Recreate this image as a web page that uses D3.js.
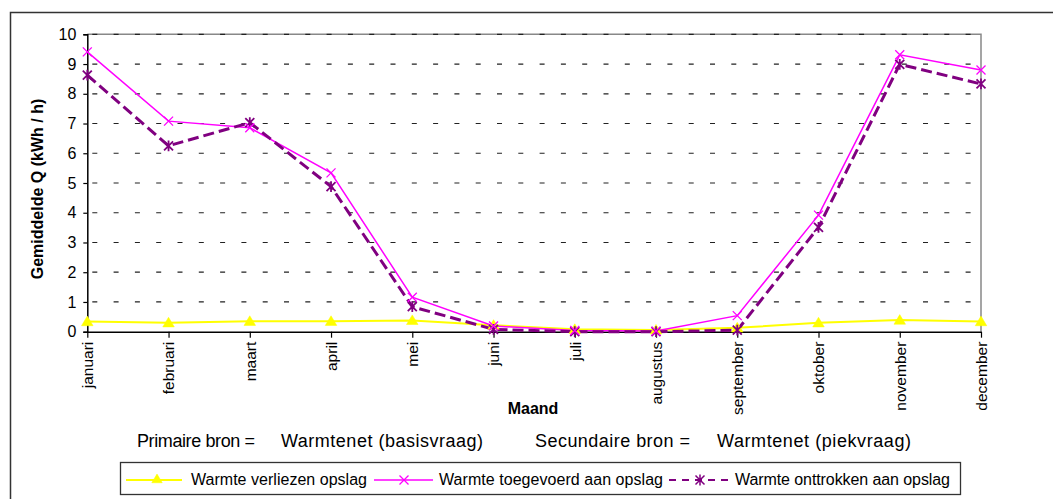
<!DOCTYPE html>
<html>
<head>
<meta charset="utf-8">
<script src="https://cdn.jsdelivr.net/npm/d3@7"></script>
<style>
  html, body { margin: 0; padding: 0; background: #fff; }
  svg { display: block; font-family: "Liberation Sans", Arial, sans-serif; }
</style>
</head>
<body>
<svg id="chart" width="1053" height="499"></svg>
<script>
const months = ["januari","februari","maart","april","mei","juni","juli","augustus","september","oktober","november","december"];
const verliezen = [0.34, 0.30, 0.35, 0.35, 0.38, 0.22, 0.08, 0.06, 0.13, 0.30, 0.39, 0.34];
const toegevoerd = [9.41, 7.08, 6.86, 5.34, 1.16, 0.19, 0.04, 0.02, 0.54, 3.92, 9.31, 8.80];
const onttrokken = [8.63, 6.25, 7.03, 4.88, 0.84, 0.08, 0.0, 0.0, 0.05, 3.51, 8.99, 8.33];
const yTicks = [0,1,2,3,4,5,6,7,8,9,10];
const seriesNames = ["Warmte verliezen opslag","Warmte toegevoerd aan opslag","Warmte onttrokken aan opslag"];
const yLabel = "Gemiddelde Q (kWh / h)";
const xLabel = "Maand";
const notes = ["Primaire bron =", "Warmtenet (basisvraag)", "Secundaire bron =", "Warmtenet (piekvraag)"];

const svg = d3.select("#chart");
const M = {left: 87.3, right: 981, top: 34.3, bottom: 331.7};

const x = d3.scalePoint().domain(months).range([M.left, M.right]);
const y = d3.scaleLinear().domain([0, 10]).range([M.bottom, M.top]);

// outer frame
svg.append("rect").attr("x", 10.5).attr("y", 12.5).attr("width", 1100).attr("height", 600)
  .attr("fill", "none").attr("stroke", "#333").attr("stroke-width", 1.5);

// plot area border (gray top/right)
svg.append("path")
  .attr("d", `M${M.left},${M.top}H${M.right}V${M.bottom}`)
  .attr("fill", "none").attr("stroke", "#888").attr("stroke-width", 1.5);

// gridlines
svg.append("g").selectAll("line").data(yTicks.filter(d => d > 0)).join("line")
  .attr("x1", M.left + 5).attr("x2", M.right - 2)
  .attr("y1", d => y(d)).attr("y2", d => y(d))
  .attr("stroke", "#222").attr("stroke-width", 1.2)
  .attr("stroke-dasharray", "5,16.3");

// y axis
const yAxis = svg.append("g").attr("transform", `translate(${M.left},0)`)
  .call(d3.axisLeft(y).tickValues(yTicks).tickSize(4).tickPadding(7).tickFormat(d3.format("d")));
yAxis.select(".domain").attr("stroke", "#000").attr("stroke-width", 1.5);
yAxis.selectAll(".tick line").attr("stroke", "#000").attr("stroke-width", 1.2);
yAxis.selectAll("text").attr("font-size", 16).attr("fill", "#000")
  .attr("font-family", "Liberation Sans, Arial, sans-serif");

// x axis
const xAxis = svg.append("g").attr("transform", `translate(0,${M.bottom})`)
  .call(d3.axisBottom(x).tickSize(6).tickSizeOuter(0));
xAxis.select(".domain").attr("stroke", "#000").attr("stroke-width", 1.5);
xAxis.selectAll(".tick line").attr("stroke", "#000").attr("stroke-width", 1.2);
xAxis.selectAll("text")
  .attr("font-size", 15.5).attr("fill", "#000")
  .attr("font-family", "Liberation Sans, Arial, sans-serif")
  .attr("transform", "rotate(-90)")
  .attr("text-anchor", "end")
  .attr("x", -10).attr("y", 0).attr("dy", "0.35em");

// axis titles
svg.append("text").attr("transform", `translate(43,${(M.top + M.bottom) / 2 + 6}) rotate(-90)`)
  .attr("text-anchor", "middle").attr("font-weight", "bold").attr("font-size", 16).text(yLabel);
svg.append("text").attr("x", 533).attr("y", 414).attr("text-anchor", "middle")
  .attr("font-weight", "bold").attr("font-size", 16).text(xLabel);

// series
const line = d3.line().x((d, i) => x(months[i])).y(d => y(d));

svg.append("path").datum(verliezen).attr("d", line)
  .attr("fill", "none").attr("stroke", "#ffff00").attr("stroke-width", 2);
svg.append("path").datum(toegevoerd).attr("d", line)
  .attr("fill", "none").attr("stroke", "#ff00ff").attr("stroke-width", 1.5);
svg.append("path").datum(onttrokken).attr("d", line)
  .attr("fill", "none").attr("stroke", "#800080").attr("stroke-width", 3)
  .attr("stroke-dasharray", "11,5");

function tri(g, cx, cy, s) {
  g.append("path").attr("d", `M${cx},${cy - s}L${cx + s * 1.05},${cy + s * 0.75}L${cx - s * 1.05},${cy + s * 0.75}Z`)
    .attr("fill", "#ffff00").attr("stroke", "#ffff00").attr("stroke-width", 0.5);
}
function cross(g, cx, cy, s, col, w) {
  g.append("path").attr("d", `M${cx - s},${cy - s}L${cx + s},${cy + s}M${cx - s},${cy + s}L${cx + s},${cy - s}`)
    .attr("stroke", col).attr("stroke-width", w).attr("fill", "none");
}
function star(g, cx, cy, s, col, w) {
  g.append("path").attr("d", `M${cx - s},${cy - s}L${cx + s},${cy + s}M${cx - s},${cy + s}L${cx + s},${cy - s}M${cx},${cy - s * 1.2}L${cx},${cy + s * 1.2}`)
    .attr("stroke", col).attr("stroke-width", w).attr("fill", "none");
}

const mk = svg.append("g");
verliezen.forEach((v, i) => tri(mk, x(months[i]), y(v), 5.5));
onttrokken.forEach((v, i) => star(mk, x(months[i]), y(v), 4.5, "#800080", 1.8));
toegevoerd.forEach((v, i) => cross(mk, x(months[i]), y(v), 4.5, "#ff00ff", 1.3));

// bottom text
const bt = svg.append("g").attr("font-size", 18).attr("fill", "#000");
const noteX = [137, 281, 535, 717];
const noteW = [118, 202, 155, 194];
notes.forEach((t, i) => bt.append("text").attr("x", noteX[i]).attr("y", 447)
  .attr("textLength", noteW[i]).attr("lengthAdjust", "spacing").text(t));

// legend
const lg = svg.append("g");
lg.append("rect").attr("x", 120.5).attr("y", 462.5).attr("width", 840).attr("height", 32)
  .attr("fill", "#fff").attr("stroke", "#333").attr("stroke-width", 1.3);
const ly = 480;
lg.append("line").attr("x1", 126).attr("x2", 182).attr("y1", ly).attr("y2", ly).attr("stroke", "#ffff00").attr("stroke-width", 2);
tri(lg, 157, ly - 1, 5);
lg.append("line").attr("x1", 374).attr("x2", 433).attr("y1", ly).attr("y2", ly).attr("stroke", "#ff00ff").attr("stroke-width", 1.5);
cross(lg, 404, ly, 4.5, "#ff00ff", 1.3);
lg.append("line").attr("x1", 669).attr("x2", 730).attr("y1", ly).attr("y2", ly).attr("stroke", "#800080").attr("stroke-width", 2.2)
  .attr("stroke-dasharray", "7,6");
star(lg, 700, ly, 4.5, "#800080", 1.5);
const lt = lg.append("g").attr("font-size", 16).attr("fill", "#000");
const legX = [191, 439, 735];
const legW = [176, 224, 215];
seriesNames.forEach((t, i) => lt.append("text").attr("x", legX[i]).attr("y", 485)
  .attr("textLength", legW[i]).attr("lengthAdjust", "spacing").text(t));
</script>
</body>
</html>
